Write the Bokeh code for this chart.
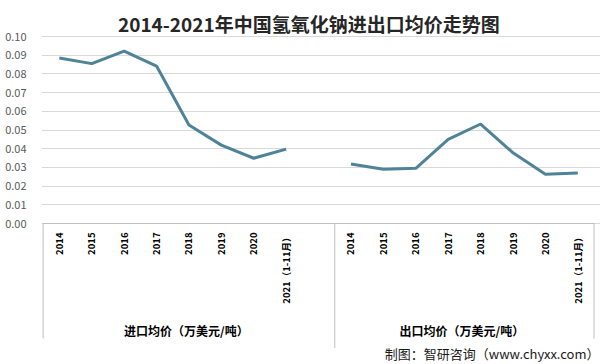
import math
from bokeh.plotting import figure
from bokeh.models import ColumnDataSource, FixedTicker, Range1d, NumeralTickFormatter
from bokeh.core.properties import value
from bokeh.embed import file_html
from bokeh.resources import INLINE

title_text = "2014-2021年中国氢氧化钠进出口均价走势图"
years = ["2014", "2015", "2016", "2017", "2018", "2019", "2020", "2021（1-11月）"]
import_price = [0.0885, 0.0855, 0.0922, 0.0842, 0.0527, 0.0419, 0.0349, 0.0398]
export_price = [0.0318, 0.0290, 0.0295, 0.0450, 0.0532, 0.0378, 0.0264, 0.0270]
group_names = ["进口均价（万美元/吨）", "出口均价（万美元/吨）"]
y_ticks = [0.00, 0.01, 0.02, 0.03, 0.04, 0.05, 0.06, 0.07, 0.08, 0.09, 0.10]
footer = "制图：智研咨询（www.chyxx.com）"

FONT = "Noto Sans CJK SC"
LINE_COLOR = "#4f8397"
GRID = "#d9d9d9"

n = len(years)
gap = 1
imp_x = [i + 0.5 for i in range(n)]
exp_x = [n + gap + i + 0.5 for i in range(n)]
total = 2 * n + gap

W, H = 605, 364
left, right = 41, 5
px_per_unit = 1870.0  # pixels per 1.0 of value (18.7 px per 0.01)
top_pad = 36
y_end = 0.10 + top_pad / px_per_unit
y_start = y_end - H / px_per_unit

p = figure(width=W, height=H, output_backend="svg", toolbar_location=None,
           x_range=Range1d(-0.05, total + 0.2), y_range=Range1d(y_start, y_end),
           min_border_left=left, min_border_right=right, min_border_top=0, min_border_bottom=0)
p.outline_line_color = None
p.xaxis.visible = False
p.xgrid.visible = False
p.ygrid.grid_line_color = GRID
p.ygrid.ticker = FixedTicker(ticks=y_ticks)
p.yaxis.ticker = FixedTicker(ticks=y_ticks)
p.yaxis.formatter = NumeralTickFormatter(format="0.00")
p.yaxis.axis_line_color = None
p.yaxis.major_tick_line_color = None
p.yaxis.minor_tick_line_color = None
p.yaxis.major_label_standoff = 9
p.yaxis.major_label_text_font = FONT
p.yaxis.major_label_text_font_size = "11px"
p.yaxis.major_label_text_color = "#595959"

# axis baseline and dividers
p.segment(x0=[0], y0=[0], x1=[total], y1=[0], line_color="#bfbfbf", line_width=1)
p.segment(x0=[0, n + gap, total], y0=[0, 0, 0], x1=[0, n + gap, total],
          y1=[-0.0615, -0.0665, -0.0615], line_color="#bfbfbf", line_width=1)

# lines
p.line(imp_x, import_price, line_color=LINE_COLOR, line_width=3)
p.line(exp_x, export_price, line_color=LINE_COLOR, line_width=3)

# category labels
cat_src = ColumnDataSource(dict(x=imp_x + exp_x, y=[-0.0048] * (2 * n), t=years + years))
p.text(x="x", y="y", text="t", source=cat_src, angle=math.pi / 2,
       text_align="right", text_baseline="middle", text_font=value(FONT),
       text_font_size="9.5px", text_font_style="bold", text_color="#000000")

# group labels
p.text(x=[(n + gap) / 2 - 0.08, (n + gap + total) / 2 - 0.08], y=[-0.0572, -0.0572],
       text=group_names, text_align="center", text_baseline="middle",
       text_font=value(FONT), text_font_size="12px", text_font_style="bold",
       text_color="#000000")

# title
p.text(x=[total / 2 - 0.3], y=[0.107], text=[title_text], text_align="center",
       text_baseline="middle", text_font=value(FONT), text_font_size="19px",
       text_font_style="bold", text_color="#262626")

# footer
p.text(x=[total + 0.17], y=[-0.0695], text=[footer], text_align="right",
       text_baseline="middle", text_font=value(FONT), text_font_size="13px",
       text_color="#1a1a1a")

open("out.html", "w").write(file_html(p, INLINE))
